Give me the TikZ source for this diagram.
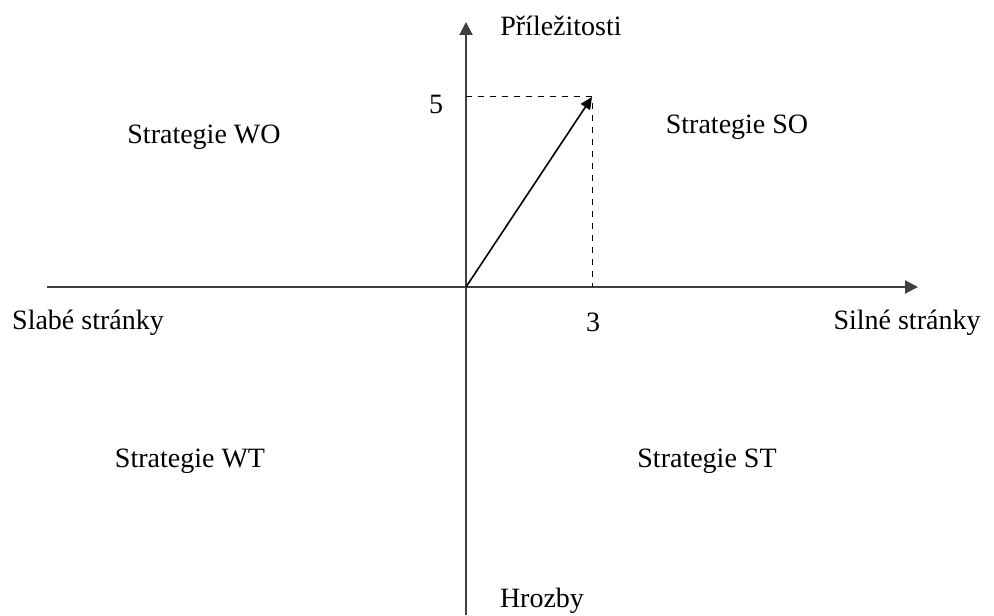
\documentclass[tikz,border=0pt]{standalone}
\usepackage{fontspec}
\setmainfont{Liberation Serif}
\usetikzlibrary{arrows.meta,positioning}

\begin{document}
\begin{tikzpicture}[x=0.5pt,y=-0.5pt,
    axis/.style={draw=black!75, line width=1pt, -{Triangle[length=6.5pt,width=6.5pt]}},
    lbl/.style={font=\fontsize{14}{17}\selectfont, inner sep=0pt}]
    \useasboundingbox (0,0) rectangle (994,615);

    % osy
    \coordinate (O) at (466,287);
    \coordinate (xl) at (47,287);
    \coordinate (xr) at (918,287);
    \coordinate (yb) at (466,615);
    \coordinate (yt) at (466,22);
    \coordinate (P) at (592,97);
    \coordinate (P5) at (466,97);
    \coordinate (P3) at (592,287);
    \draw[axis] (xl) -- (xr);
    \draw[axis] (yb) -- (yt);

    % bod (3,5)
    \draw[dashed, line width=0.5pt] (P5) -- (P) -- (P3);
    \draw[line width=0.8pt, -{Triangle[length=6pt,width=5.5pt]}] (O) -- (P);

    % popisky
    \node[lbl] (prilez) at (561,26) {Příležitosti};
    \node[lbl] (hrozby) at (542,601) {Hrozby};
    \node[lbl] (slabe) at (88,323) {Slabé stránky};
    \node[lbl] (silne) at (907,323) {Silné stránky};
    \node[lbl] (pet) at (436,104) {5};
    \node[lbl] (tri) at (593,322) {3};

    % strategie
    \node[lbl] (wo) at (204,137) {Strategie WO};
    \node[lbl] (so) at (737,127) {Strategie SO};
    \node[lbl] (wt) at (190,461) {Strategie WT};
    \node[lbl] (st) at (707,461) {Strategie ST};
\end{tikzpicture}
\end{document}
